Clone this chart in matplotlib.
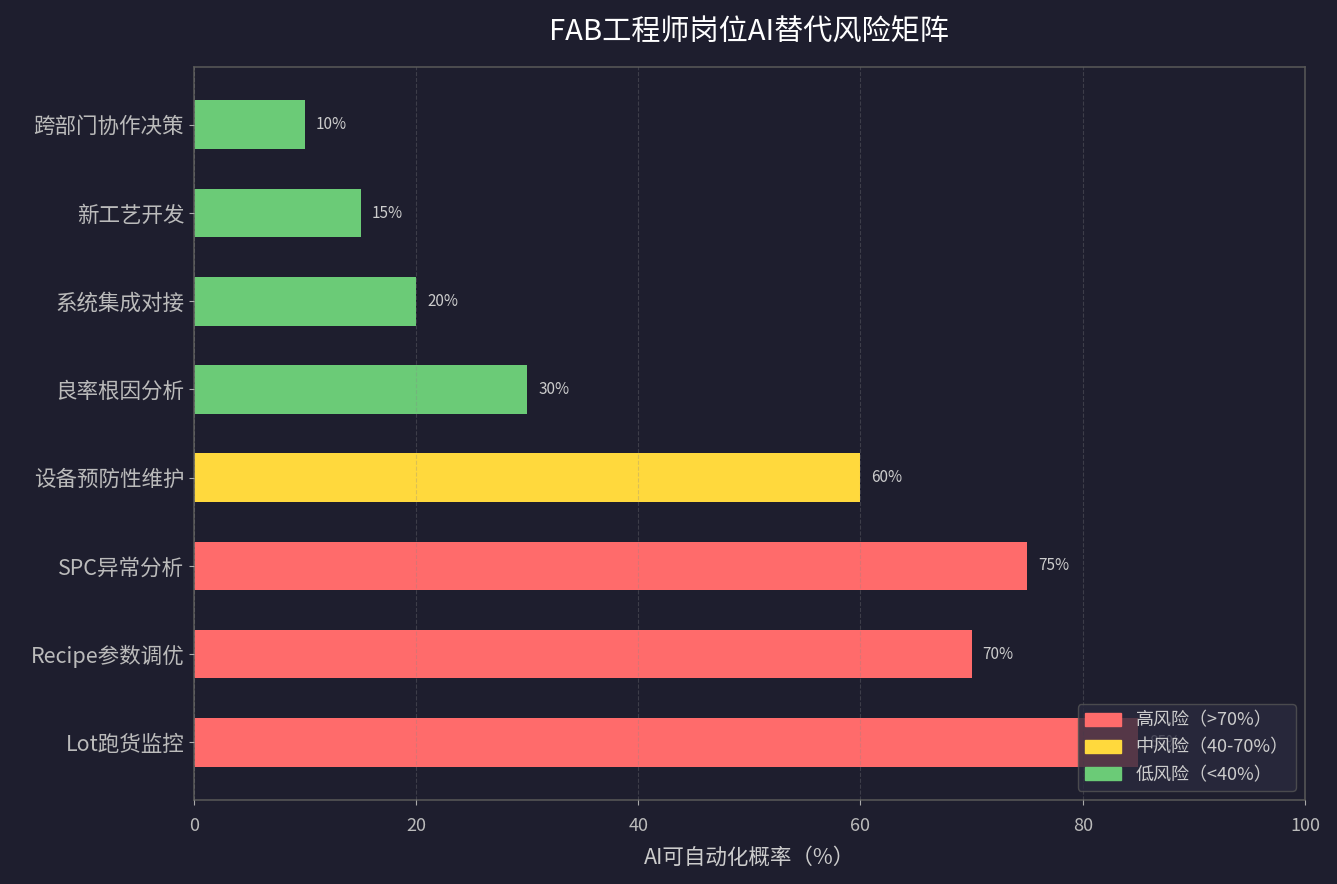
import matplotlib
matplotlib.use('Agg')
import matplotlib.pyplot as plt
from matplotlib.patches import Patch

plt.rcParams['font.family'] = ['Noto Sans CJK SC', 'DejaVu Sans']
plt.rcParams['axes.unicode_minus'] = False

# 数据
tasks = ['Lot跑货监控', 'Recipe参数调优', 'SPC异常分析', '设备预防性维护',
         '良率根因分析', '系统集成对接', '新工艺开发', '跨部门协作决策']
risk = [85, 70, 75, 60, 30, 20, 15, 10]

bg = '#1e1e2e'
red, yellow, green = '#ff6b6b', '#ffd93d', '#6bcb77'


def pick_color(v):
    if v >= 70:
        return red
    elif v >= 40:
        return yellow
    return green


colors = [pick_color(v) for v in risk]

fig = plt.figure(figsize=(13.37, 8.84), dpi=100, facecolor=bg)
ax = fig.add_axes([0.145, 0.095, 0.831, 0.829])
ax.set_facecolor(bg)

bars = ax.barh(tasks, risk, color=colors, height=0.55, zorder=2)
for b, v in zip(bars, risk):
    ax.text(b.get_width() + 1, b.get_y() + b.get_height() / 2, f'{v}%',
            va='center', ha='left', color='#cccccc', fontsize=11, zorder=3)

ax.set_xlim(0, 100)
ax.set_xlabel('AI可自动化概率（%）', color='#cccccc', fontsize=15.5, labelpad=8)
ax.set_title('FAB工程师岗位AI替代风险矩阵', color='white', fontsize=21, pad=19)
ax.tick_params(axis='y', colors='#aaaaaa', labelsize=15.5, labelcolor='#bbbbbb')
ax.tick_params(axis='x', colors='#aaaaaa', labelsize=13, labelcolor='#bbbbbb', pad=9)
for s in ax.spines.values():
    s.set_color('#555555')
    s.set_linewidth(1.2)
ax.grid(axis='x', linestyle='--', color='#888888', alpha=0.3, zorder=4)
ax.set_axisbelow(False)

handles = [Patch(color=red, label='高风险（>70%）'),
           Patch(color=yellow, label='中风险（40-70%）'),
           Patch(color=green, label='低风险（<40%）')]
leg = ax.legend(handles=handles, loc='lower right', fontsize=13,
                facecolor='#2a2a3e', edgecolor='#555555', labelcolor='#cccccc',
                framealpha=0.8)
leg.set_zorder(5)

fig.savefig('out.png', dpi=100, facecolor=bg)
